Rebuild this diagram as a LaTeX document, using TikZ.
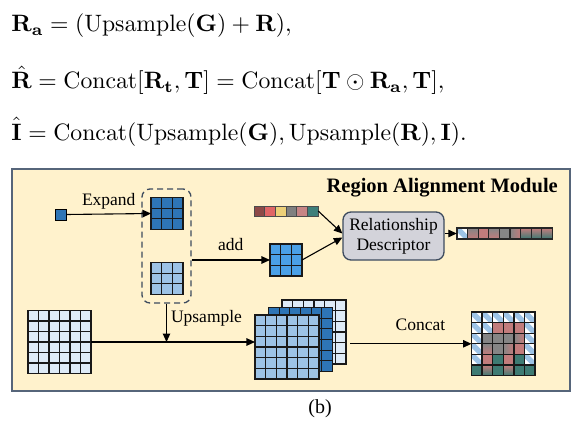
\documentclass[tikz,border=0pt]{standalone}
\usepackage[no-math]{fontspec}
\newfontfamily\tnr{Liberation Serif}
\usetikzlibrary{arrows.meta,calc}
\definecolor{cream}{HTML}{FFF2CC}
\definecolor{bordc}{HTML}{56657A}
\definecolor{dashc}{HTML}{3D4B5E}
\definecolor{dblue}{HTML}{2E75B6}
\definecolor{lblue}{HTML}{9DC3E6}
\definecolor{vlblue}{HTML}{DEEBF7}
\definecolor{mblue}{HTML}{4AA0E6}
\definecolor{rdfill}{HTML}{D3D3DA}
\definecolor{pinkc}{HTML}{C27C7C}
\definecolor{grayc}{HTML}{858585}
\definecolor{tealc}{HTML}{3E7B73}
\definecolor{ca}{HTML}{8E4A48}
\definecolor{cb}{HTML}{E06666}
\definecolor{cc}{HTML}{EDD078}
\definecolor{cd}{HTML}{808080}
\definecolor{ce}{HTML}{C78585}
\definecolor{cf}{HTML}{3E7F7A}
\newcommand\mkgrid[5]{%
  \node[inner sep=0, outer sep=0, minimum width=#3*#4, minimum height=#3*#4, fill=#5] (#1) at (#2) {};
  \foreach \k in {0,...,#3}{
    \draw[gl] ($(#1.north west)+(\k*#4,0)$) -- ($(#1.south west)+(\k*#4,0)$);
    \draw[gl] ($(#1.north west)+(0,\k*#4)$) -- ($(#1.north east)+(0,\k*#4)$);
  }
}
\def\cs{10.6}
\newcommand\cellW[2]{\fill[white] (#1,#2) rectangle ++(\cs,\cs);
  \fill[lblue] (#1,#2) -- ++(3.8,0) -- ++(\cs-3.8,\cs-3.8) -- ++(0,3.8) -- ++(-3.8,0) -- ++(-\cs+3.8,-\cs+3.8) -- cycle;}
\newcommand\cellP[2]{\fill[pinkc] (#1,#2) rectangle ++(\cs,\cs);}
\newcommand\cellG[2]{\fill[grayc] (#1,#2) rectangle ++(\cs,\cs);}
\newcommand\cellT[2]{\fill[tealc] (#1,#2) rectangle ++(\cs,\cs);}
\newcommand\cellQ[2]{\shade[left color=grayc, right color=pinkc] (#1,#2) rectangle ++(\cs,\cs);}
\newcommand\cellR[2]{\shade[top color=grayc, bottom color=pinkc] (#1,#2) rectangle ++(\cs,\cs);}
\newcommand\cellS[2]{\shade[top color=pinkc, bottom color=tealc] (#1,#2) rectangle ++(\cs,\cs);}
\newcommand\cellfill[3]{\csname cell#1\endcsname{#2}{#3}}
\begin{document}
\begin{tikzpicture}[x=1pt,y=-1pt,
  gl/.style={line width=1.3pt, draw=black!90, line cap=rect},
  arr/.style={line width=1.1pt, -{Triangle[length=8.5pt,width=7.5pt]}},
  lbl/.style={font=\tnr\fontsize{17.5}{20}\selectfont, inner sep=0pt},
  eqn/.style={anchor=base west, inner sep=0pt, scale=2.37},
  ]
\useasboundingbox (0,0) rectangle (578,425);
% equations
\node[eqn] (eq1) at (11,32) {$\mathbf{R_a} = (\mathrm{Upsample}(\mathbf{G}) + \mathbf{R}),$};
\node[eqn] (eq2) at (11,89) {$\hat{\mathbf{R}} = \mathrm{Concat}[\mathbf{R_t}, \mathbf{T}] = \mathrm{Concat}[\mathbf{T} \odot \mathbf{R_a}, \mathbf{T}],$};
\node[eqn] (eq3) at (11,140) {$\hat{\mathbf{I}} = \mathrm{Concat}(\mathrm{Upsample}(\mathbf{G}), \mathrm{Upsample}(\mathbf{R}), \mathbf{I}).$};
% panel
\node[draw=bordc, fill=cream, line width=1.6pt, minimum width=558, minimum height=222, inner sep=0, anchor=north west] (panel) at (11,168) {};
\node[anchor=east, font=\tnr\bfseries\fontsize{20.5}{24}\selectfont, inner sep=0] (title) at (558,188) {Region Alignment Module};
% small square
\node[draw=black, line width=1pt, fill=dblue, minimum size=11, inner sep=0] (s0) at (60.5,214.5) {};
% dashed box
\node[draw=dashc, dashed, dash pattern=on 6pt off 4pt, line width=1.3pt, rounded corners=8, minimum width=49, minimum height=114, inner sep=0] (dash) at (166.5,246) {};
\mkgrid{dk}{167,213.5}{3}{10.67}{dblue}
\mkgrid{lt}{167,278.5}{3}{10.67}{lblue}
\mkgrid{md}{286,260}{3}{10.67}{mblue}
% colour bar
\node[inner sep=0, minimum width=64, minimum height=10] (cbar) at (286,211) {};
\foreach \cl [count=\i from 0] in {ca,cb,cc,cd,ce,cf}{
  \fill[\cl] (254+\i*10.67,206) rectangle ++(10.67,10);
  \draw[draw=black!70, line width=0.8pt] (254+\i*10.67,206) rectangle ++(10.67,10);
}
% relationship descriptor
\node[draw=dashc, fill=rdfill, line width=1.3pt, rounded corners=8, minimum width=101, minimum height=48, inner sep=0, align=center, font=\tnr\fontsize{17.5}{20}\selectfont] (rd) at (393.5,236) {Relationship\\Descriptor};
% output bar
\node[inner sep=0, minimum width=95.4, minimum height=10.6] (ob) at (504.7,233.5) {};
\foreach \t [count=\i from 0] in {W,R,P,R,G,Q,S,S,S}{
  \cellfill{\t}{457+\i*10.6}{228.2}
}
\foreach \i in {0,...,9}{\draw[line width=1.1pt, draw=black!85, line cap=rect] (457+\i*10.6,228.2) -- ++(0,10.6);}
\draw[line width=1.1pt, draw=black!85, line cap=rect] (ob.north west) -- (ob.north east) (ob.south west) -- (ob.south east);
% bottom-left grid
\mkgrid{bl}{59.5,342}{6}{10.5}{vlblue}
% stack
\mkgrid{bk}{314,332}{6}{10.67}{vlblue}
\mkgrid{mi}{300.5,339.5}{6}{10.67}{dblue}
\mkgrid{fr}{287,347}{6}{10.67}{lblue}
% result grid
\node[inner sep=0, outer sep=0, minimum width=63.6, minimum height=63.6] (rs) at (503.3,343.8) {};
\foreach \row [count=\r from 0] in {{W,W,W,W,W,W},{W,W,P,P,P,W},{W,G,G,G,Q,W},{W,R,G,Q,P,W},{W,P,T,P,T,W},{T,S,T,S,T,T}}{
  \foreach \t [count=\c from 0] in \row {\cellfill{\t}{471.5+\c*10.6}{312+\r*10.6}}
}
\foreach \k in {0,...,6}{
  \draw[gl] ($(rs.north west)+(\k*10.6,0)$) -- ($(rs.south west)+(\k*10.6,0)$);
  \draw[gl] ($(rs.north west)+(0,\k*10.6)$) -- ($(rs.north east)+(0,\k*10.6)$);
}
% connectors
\draw[arr] (s0.east) -- (dk.west) node[lbl, midway, above=4.5pt] (lexp) {Expand};
\draw[arr] (dash.east |- md.west) -- (md.west) node[lbl, midway, above=9pt] (ladd) {add};
\draw[arr] (cbar.east) -- ($(rd.west)+(0,-2.5)$);
\draw[arr] (md.east) -- ($(rd.west)+(0,1.5)$);
\draw[arr] (rd.east |- ob.west) -- (ob.west);
\draw[arr] (bl.east) -- (bl.east -| fr.west);
\draw[arr] (dash.south) -- (dash.south |- bl.east) node[lbl, pos=0.38, right=4pt] (lup) {Upsample};
\draw[arr] ($(bk.east |- rs.west)+(4,0)$) -- (rs.west) node[lbl, pos=0.58, above=13pt] (lcat) {Concat};
% caption
\node[font=\tnr\fontsize{20}{24}\selectfont, inner sep=0] (cap) at (320,409) {(b)};
\end{tikzpicture}
\end{document}
